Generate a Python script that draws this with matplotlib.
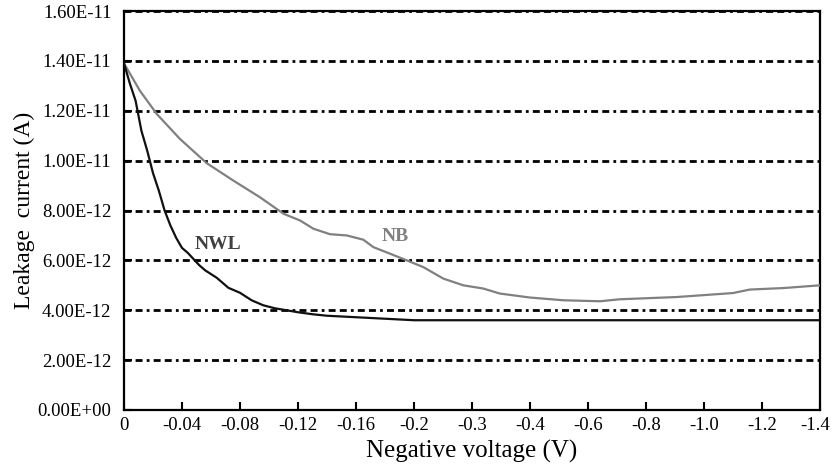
import numpy as np
import matplotlib
matplotlib.use("Agg")
import matplotlib.pyplot as plt
from matplotlib.ticker import NullLocator
from matplotlib.transforms import ScaledTranslation

# Tick positions on the voltage axis (equally spaced on the plot)
x_ticks = [0, -0.04, -0.08, -0.12, -0.16, -0.2, -0.3, -0.4, -0.6, -0.8, -1.0, -1.2, -1.4]
x_labels = ['0', '-0.04', '-0.08', '-0.12', '-0.16', '-0.2', '-0.3',
            '-0.4', '-0.6', '-0.8', '-1.0', '-1.2', '-1.4']
y_ticks = [0, 2e-12, 4e-12, 6e-12, 8e-12, 1e-11, 1.2e-11, 1.4e-11, 1.6e-11]
y_labels = ['0.00E+00', '2.00E-12', '4.00E-12', '6.00E-12', '8.00E-12',
            '1.00E-11', '1.20E-11', '1.40E-11', '1.60E-11']

# NWL leakage current (pA) vs voltage (V)
nwl_v = [0, -0.004, -0.008, -0.012, -0.016, -0.02, -0.024, -0.028, -0.032, -0.036,
         -0.04, -0.044, -0.048, -0.052, -0.056, -0.06, -0.064, -0.068, -0.072,
         -0.08, -0.088, -0.096, -0.104, -0.112, -0.12, -0.13, -0.14, -0.16, -0.18,
         -0.2, -0.3, -0.4, -0.6, -0.8, -1.0, -1.2, -1.4]
nwl_i = [13.9, 13.1, 12.4, 11.2, 10.4, 9.5, 8.8, 8.0, 7.4, 6.9,
         6.5, 6.3, 6.05, 5.8, 5.6, 5.45, 5.3, 5.1, 4.9,
         4.7, 4.4, 4.2, 4.08, 4.0, 3.92, 3.84, 3.78, 3.72, 3.66,
         3.6, 3.6, 3.6, 3.6, 3.6, 3.6, 3.6, 3.6]

# NB leakage current (pA) vs voltage (V)
nb_v = [0, -0.011, -0.0226, -0.0386, -0.057, -0.0754, -0.0938, -0.11, -0.1214,
        -0.1306, -0.142, -0.1536, -0.165, -0.172, -0.1834, -0.195, -0.216, -0.2505,
        -0.285, -0.3195, -0.348, -0.4, -0.515, -0.641, -0.71, -0.906, -1.1,
        -1.158, -1.274, -1.4]
nb_i = [13.9, 12.8, 11.87, 10.87, 9.9, 9.2, 8.53, 7.87, 7.6,
        7.27, 7.05, 7.0, 6.83, 6.53, 6.27, 6.0, 5.73, 5.27,
        5.0, 4.87, 4.67, 4.51, 4.4, 4.36, 4.44, 4.53, 4.69,
        4.83, 4.89, 5.0]

nwl_i = np.array(nwl_i) * 1e-12
nb_i = np.array(nb_i) * 1e-12

# piecewise scale: each labelled voltage sits one step further along
mags = -np.array(x_ticks)
steps = np.arange(len(x_ticks), dtype=float)


def forward(v):
    return -np.interp(-np.asarray(v, dtype=float), mags, steps)


def inverse(s):
    return -np.interp(-np.asarray(s, dtype=float), steps, mags)


plt.rcParams['font.family'] = ['Liberation Serif', 'DejaVu Serif']

fig = plt.figure(figsize=(8.32, 4.68), dpi=100)
ax = fig.add_axes([124 / 832, 1 - 410 / 468, (820 - 124) / 832, (410 - 11) / 468])
ax.set_xscale('function', functions=(forward, inverse))

grid_style = (0, (2.5, 1.5, 2.5, 1.5, 1.0, 1.5))
for y in y_ticks[1:]:
    ax.axhline(y, color='black', lw=2, linestyle=grid_style, zorder=1)

ax.plot(nb_v, nb_i, color='#808080', lw=1.6, zorder=3)
ax.plot(nwl_v, nwl_i, color='#111111', lw=1.6, zorder=3)

ax.text(-0.065, 6.64e-12, 'NWL', fontsize=14, fontweight='bold', color='#404040',
        ha='center', va='center')
ax.text(-0.187, 6.96e-12, 'NB', fontsize=14, fontweight='bold', color='#808080',
        ha='center', va='center')

ax.set_xlim(0, -1.4)
ax.set_ylim(0, 1.6e-11)
ax.set_xticks(x_ticks)
ax.set_xticklabels(x_labels)
ax.set_yticks(y_ticks)
ax.set_yticklabels(y_labels)
ax.xaxis.set_minor_locator(NullLocator())
ax.tick_params(axis='both', direction='in', length=6, width=1.5, labelsize=13.5)
ax.tick_params(axis='x', pad=5)
ax.tick_params(axis='y', pad=9)

# keep the last voltage label inside the figure
last = ax.get_xticklabels()[-1]
last.set_transform(last.get_transform() + ScaledTranslation(-5 / 100, 0, fig.dpi_scale_trans))

for side in ax.spines.values():
    side.set_linewidth(1.6)
    side.set_color('black')

ax.set_xlabel('Negative voltage (V)', fontsize=18, labelpad=4)
ax.set_ylabel('Leakage  current (A)', fontsize=17, labelpad=2)

fig.savefig('out.png', dpi=100)
plt.close(fig)
